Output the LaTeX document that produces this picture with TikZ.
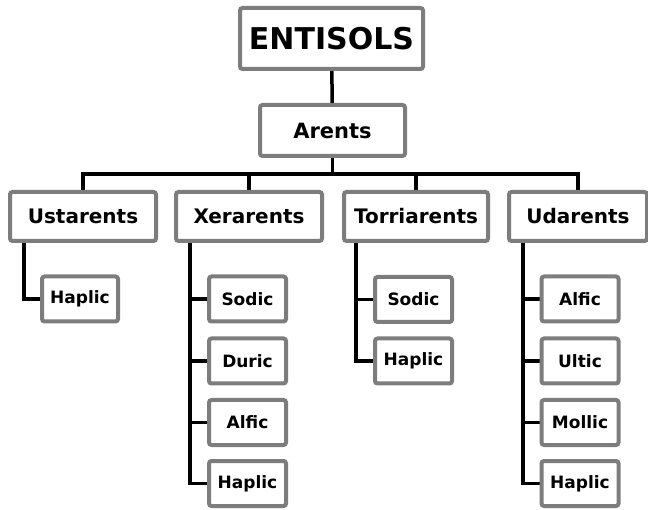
\documentclass[tikz,border=0pt]{standalone}
\usepackage{fontspec}
\setmainfont{DejaVu Sans}
\usetikzlibrary{backgrounds}
\tikzset{
  box/.style={draw=gray!98!black, line width=4pt, fill=white, rounded corners=2.5pt,
    inner sep=0pt, font=\bfseries, text=black},
  top/.style={box, minimum width=183pt, minimum height=61pt, font=\bfseries\fontsize{30}{30}\selectfont},
  mid/.style={box, minimum width=145pt, minimum height=51pt, font=\bfseries\fontsize{21}{21}\selectfont},
  lvl/.style={box, minimum width=146pt, minimum height=49pt, font=\bfseries\fontsize{20}{20}\selectfont},
  leaf/.style={box, minimum width=77pt, minimum height=45pt, font=\bfseries\fontsize{17}{17}\selectfont},
  conn/.style={draw=black, line width=3.5pt, line join=miter},
}
\begin{document}
\begin{tikzpicture}[x=1pt,y=-1pt]
\useasboundingbox (0,0) rectangle (648,510);
\node[top] (ent) at (331.5,38.5) {ENTISOLS};
\node[mid] (ar) at (332.5,130.5) {Arents};
\node[lvl] (ust) at (83,216.5) {Ustarents};
\node[lvl] (xer) at (249,216.5) {Xerarents};
\node[lvl, minimum width=144pt] (tor) at (416,216.5) {Torriarents};
\node[lvl, minimum width=138pt] (uda) at (578,216.5) {Udarents};
\coordinate (bar) at (333,174);
% Ustarents children
\node[leaf, minimum width=76pt] (uhap) at (80,299) {Haplic};
% Xerarents children
\node[leaf] (xsod) at (247.5,299) {Sodic};
\node[leaf] (xdur) at (247.5,361) {Duric};
\node[leaf] (xalf) at (247.5,422.5) {Alfic};
\node[leaf] (xhap) at (247.5,483.5) {Haplic};
% Torriarents children
\node[leaf] (tsod) at (413.5,299.5) {Sodic};
\node[leaf] (thap) at (413.5,361) {Haplic};
% Udarents children
\node[leaf] (ualf) at (580,299) {Alfic};
\node[leaf] (ult) at (580,361) {Ultic};
\node[leaf] (umol) at (580,422.5) {Mollic};
\node[leaf] (uhap2) at (580,483.5) {Haplic};
\begin{pgfonlayer}{background}
\draw[conn] (ent) -- (ar);
\draw[conn] (ar.south) -- (ar.south |- bar);
\draw[conn] (ust.north) |- (bar) -| (uda.north);
\draw[conn] (xer.north) -- (xer.north |- bar);
\draw[conn] (tor.north) -- (tor.north |- bar);
\draw[conn] ([xshift=16pt]ust.south west) |- (uhap.west);
\foreach \c in {xsod,xdur,xalf,xhap}
  \draw[conn] ([xshift=16pt]xer.south west) |- (\c.west);
\foreach \c in {tsod,thap}
  \draw[conn] ([xshift=14pt]tor.south west) |- (\c.west);
\foreach \c in {ualf,ult,umol,uhap2}
  \draw[conn] ([xshift=16pt]uda.south west) |- (\c.west);
\end{pgfonlayer}
\end{tikzpicture}
\end{document}
